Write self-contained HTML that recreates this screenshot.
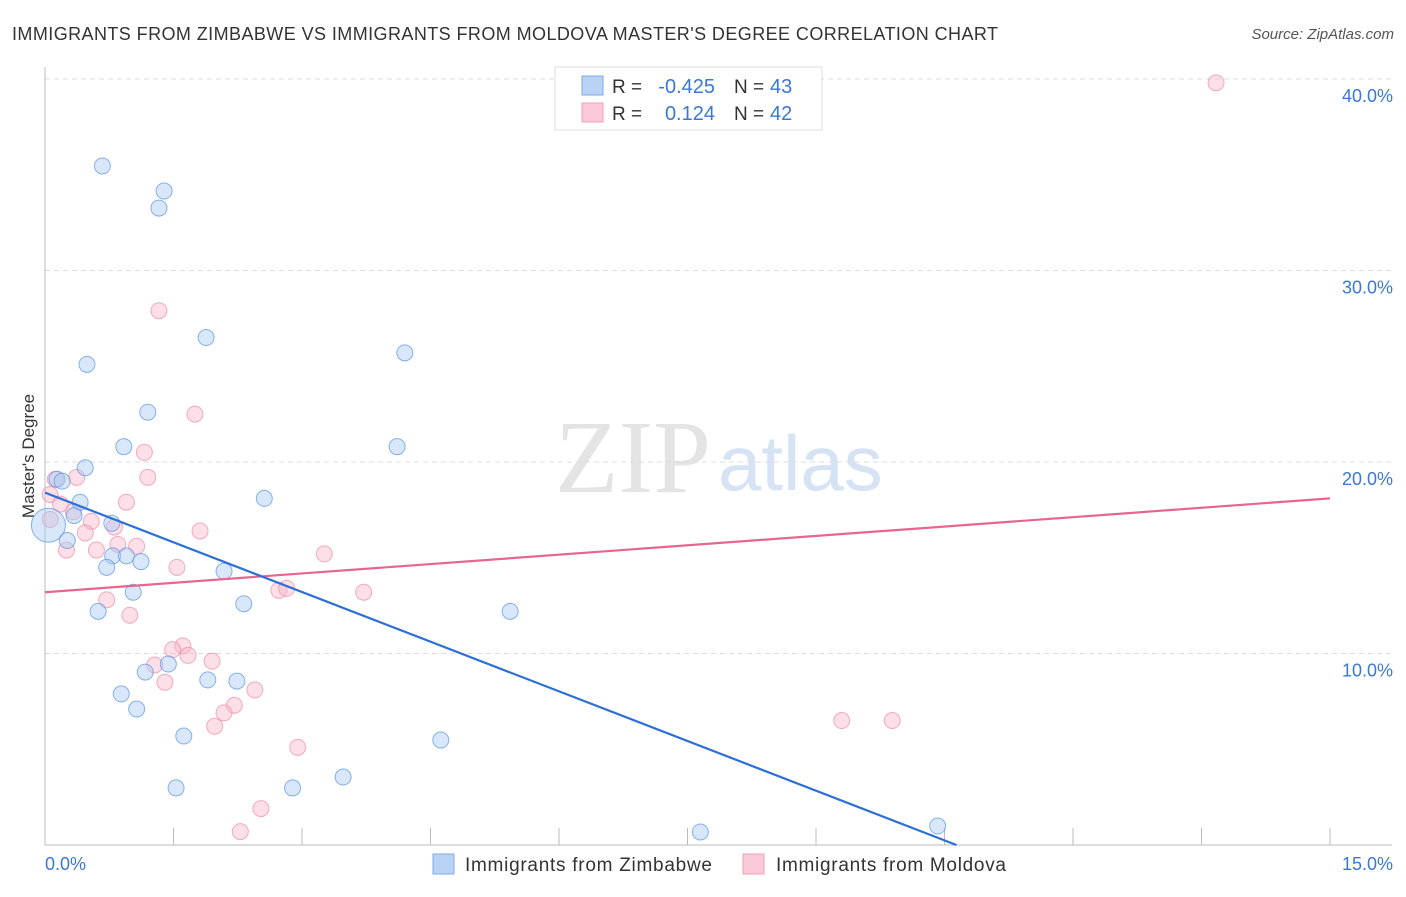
<!DOCTYPE html>
<html><head><meta charset="utf-8"><style>
body{margin:0;background:#fff;font-family:"Liberation Sans",sans-serif;}
</style></head><body>
<svg width="1406" height="892" xmlns="http://www.w3.org/2000/svg" id="chart">
<text x="12" y="40" font-size="18" fill="#333" textLength="986">IMMIGRANTS FROM ZIMBABWE VS IMMIGRANTS FROM MOLDOVA MASTER'S DEGREE CORRELATION CHART</text>
<text x="1394" y="39" font-size="15" fill="#555" font-style="italic" text-anchor="end">Source: ZipAtlas.com</text>
<text x="555" y="492" font-size="104" fill="#e4e4e4" font-family="Liberation Serif,serif">ZIP</text>
<text x="718" y="490" font-size="78" fill="#d5e3f4">atlas</text>
<g id="grid"></g>
<line x1="45" y1="67" x2="45" y2="845" stroke="#bbb"/>
<line x1="45" y1="845" x2="1392" y2="845" stroke="#bbb"/>
<text transform="translate(34,456) rotate(-90)" font-size="17" fill="#333" text-anchor="middle">Master's Degree</text>
<text x="45" y="870" font-size="18" fill="#3a78d4">0.0%</text>
<text x="1393" y="870" font-size="18" fill="#3a78d4" text-anchor="end">15.0%</text>
<g id="points"></g>
<g id="lines"></g>
<g>
<rect x="555" y="67" width="267" height="63" fill="#fff" stroke="#ddd"/>
<rect x="582" y="76" width="21" height="19" fill="#b9d3f5" stroke="#7fa9e6"/>
<rect x="582" y="103" width="21" height="19" fill="#fcc9d7" stroke="#f0a0b8"/>
<text x="612" y="93" font-size="19" fill="#333">R = </text><text x="715" y="93" font-size="20" fill="#3a78d4" text-anchor="end">-0.425</text>
<text x="734" y="93" font-size="19" fill="#333">N = </text><text x="770" y="93" font-size="20" fill="#3a78d4">43</text>
<text x="612" y="120" font-size="19" fill="#333">R = </text><text x="715" y="120" font-size="20" fill="#3a78d4" text-anchor="end">0.124</text>
<text x="734" y="120" font-size="19" fill="#333">N = </text><text x="770" y="120" font-size="20" fill="#3a78d4">42</text>
</g>
<g>
<rect x="433" y="854" width="21" height="20" fill="#b9d3f5" stroke="#7fa9e6"/>
<text x="465" y="871" font-size="19" fill="#333" textLength="247">Immigrants from Zimbabwe</text></g>
<g>
<rect x="743" y="854" width="21" height="20" fill="#fcc9d7" stroke="#f0a0b8"/>
<text x="776" y="871" font-size="19" fill="#333" textLength="230">Immigrants from Moldova</text></g>
</svg>
<script>
const yTicks=[10,20,30,40];
const yTickLabels=["10.0%","20.0%","30.0%","40.0%"];
const xTicks=[0,1.5,3,4.5,6,7.5,9,10.5,12,13.5,15];
const blueX=[0.67,1.39,1.33,1.88,0.49,4.20,1.20,0.92,4.11,0.47,0.14,0.20,0.41,2.56,0.34,0.78,0.04,0.26,0.79,0.95,1.12,0.72,2.09,1.03,0.62,2.32,5.43,1.44,1.17,1.90,2.24,0.89,1.07,1.62,4.62,3.48,1.53,2.89,7.65,10.42];
const blueY=[35.46,34.15,33.26,26.5,25.1,25.7,22.6,20.8,20.8,19.7,19.1,19.0,17.9,18.1,17.2,16.8,16.7,15.9,15.1,15.1,14.8,14.5,14.3,13.2,12.2,12.6,12.2,9.45,9.03,8.62,8.56,7.89,7.10,5.69,5.48,3.55,2.98,2.98,0.68,0.99];
const blueR=[8,8,8,8,8,8,8,8,8,8,8,8,8,8,8,8,17,8,8,8,8,8,8,8,8,8,8,8,8,8,8,8,8,8,8,8,8,8,8,8];
const pinkX=[13.67,1.33,1.75,1.16,1.20,0.37,0.12,0.06,0.18,0.95,0.33,0.54,0.81,0.06,0.47,0.85,1.07,0.60,0.25,3.26,1.54,1.81,2.73,2.82,3.72,0.72,0.99,1.61,1.49,1.67,1.95,1.28,1.40,2.45,2.21,2.09,1.98,2.95,2.52,2.28,9.30,9.89];
const pinkY=[39.8,27.9,22.5,20.5,19.2,19.2,19.1,18.3,17.8,17.9,17.4,16.9,16.6,17.0,16.3,15.7,15.6,15.4,15.4,15.2,14.5,16.4,13.3,13.4,13.2,12.8,12.0,10.4,10.2,9.9,9.6,9.4,8.5,8.1,7.3,6.9,6.2,5.1,1.9,0.7,6.5,6.5];
const pinkR=[8,8,8,8,8,8,8,8,8,8,8,8,8,8,8,8,8,8,8,8,8,8,8,8,8,8,8,8,8,8,8,8,8,8,8,8,8,8,8,8,8,8];
const blueTrend=[[0,18.4],[10.64,0]];
const pinkTrend=[[0,13.2],[15,18.1]];
const X=v=>45+v/15*1285, Y=v=>845-v*19.15;
const NS="http://www.w3.org/2000/svg";
const grid=document.getElementById('grid');
yTicks.forEach((t,i)=>{
 const l=document.createElementNS(NS,'line');
 l.setAttribute('x1',45);l.setAttribute('x2',1392);l.setAttribute('y1',Y(t));l.setAttribute('y2',Y(t));
 l.setAttribute('stroke','#ddd');l.setAttribute('stroke-dasharray','5,4');
 
 
 grid.appendChild(l);
 const tx=document.createElementNS(NS,'text');
 tx.setAttribute('x',1393);tx.setAttribute('y',Y(t)+23);tx.setAttribute('text-anchor','end');
 tx.setAttribute('font-size','18');tx.setAttribute('fill','#3a78d4');tx.textContent=yTickLabels[i];
 
 
 grid.appendChild(tx);
});
xTicks.forEach(t=>{
 const l=document.createElementNS(NS,'line');
 l.setAttribute('x1',X(t));l.setAttribute('x2',X(t));l.setAttribute('y1',828);l.setAttribute('y2',845);
 l.setAttribute('stroke','#bbb');
 
 
 grid.appendChild(l);
});
const pg=document.getElementById('points');
function dots(xs,ys,rs,fill,stroke,name){
 xs.forEach((x,i)=>{
  const c=document.createElementNS(NS,'circle');
  c.setAttribute('cx',X(x));c.setAttribute('cy',Y(ys[i]));c.setAttribute('r',rs[i]);
  c.setAttribute('fill',fill);c.setAttribute('fill-opacity','0.45');c.setAttribute('stroke',stroke);c.setAttribute('stroke-opacity','0.7');
  
  
  pg.appendChild(c);
 });
}
dots(pinkX,pinkY,pinkR,'#f9b8ca','#ee8aa8','moldova-point');
dots(blueX,blueY,blueR,'#a9c9f2','#5b93e0','zimbabwe-point');
const lg=document.getElementById('lines');
function trend(p,col,name){
 const l=document.createElementNS(NS,'line');
 l.setAttribute('x1',X(p[0][0]));l.setAttribute('y1',Y(p[0][1]));l.setAttribute('x2',X(p[1][0]));l.setAttribute('y2',Y(p[1][1]));
 l.setAttribute('stroke',col);l.setAttribute('stroke-width','2.2');
 
 
 lg.appendChild(l);
}
trend(pinkTrend,'#e7668f','moldova-trendline');
trend(blueTrend,'#2c6fd6','zimbabwe-trendline');
</script>
</body></html>
